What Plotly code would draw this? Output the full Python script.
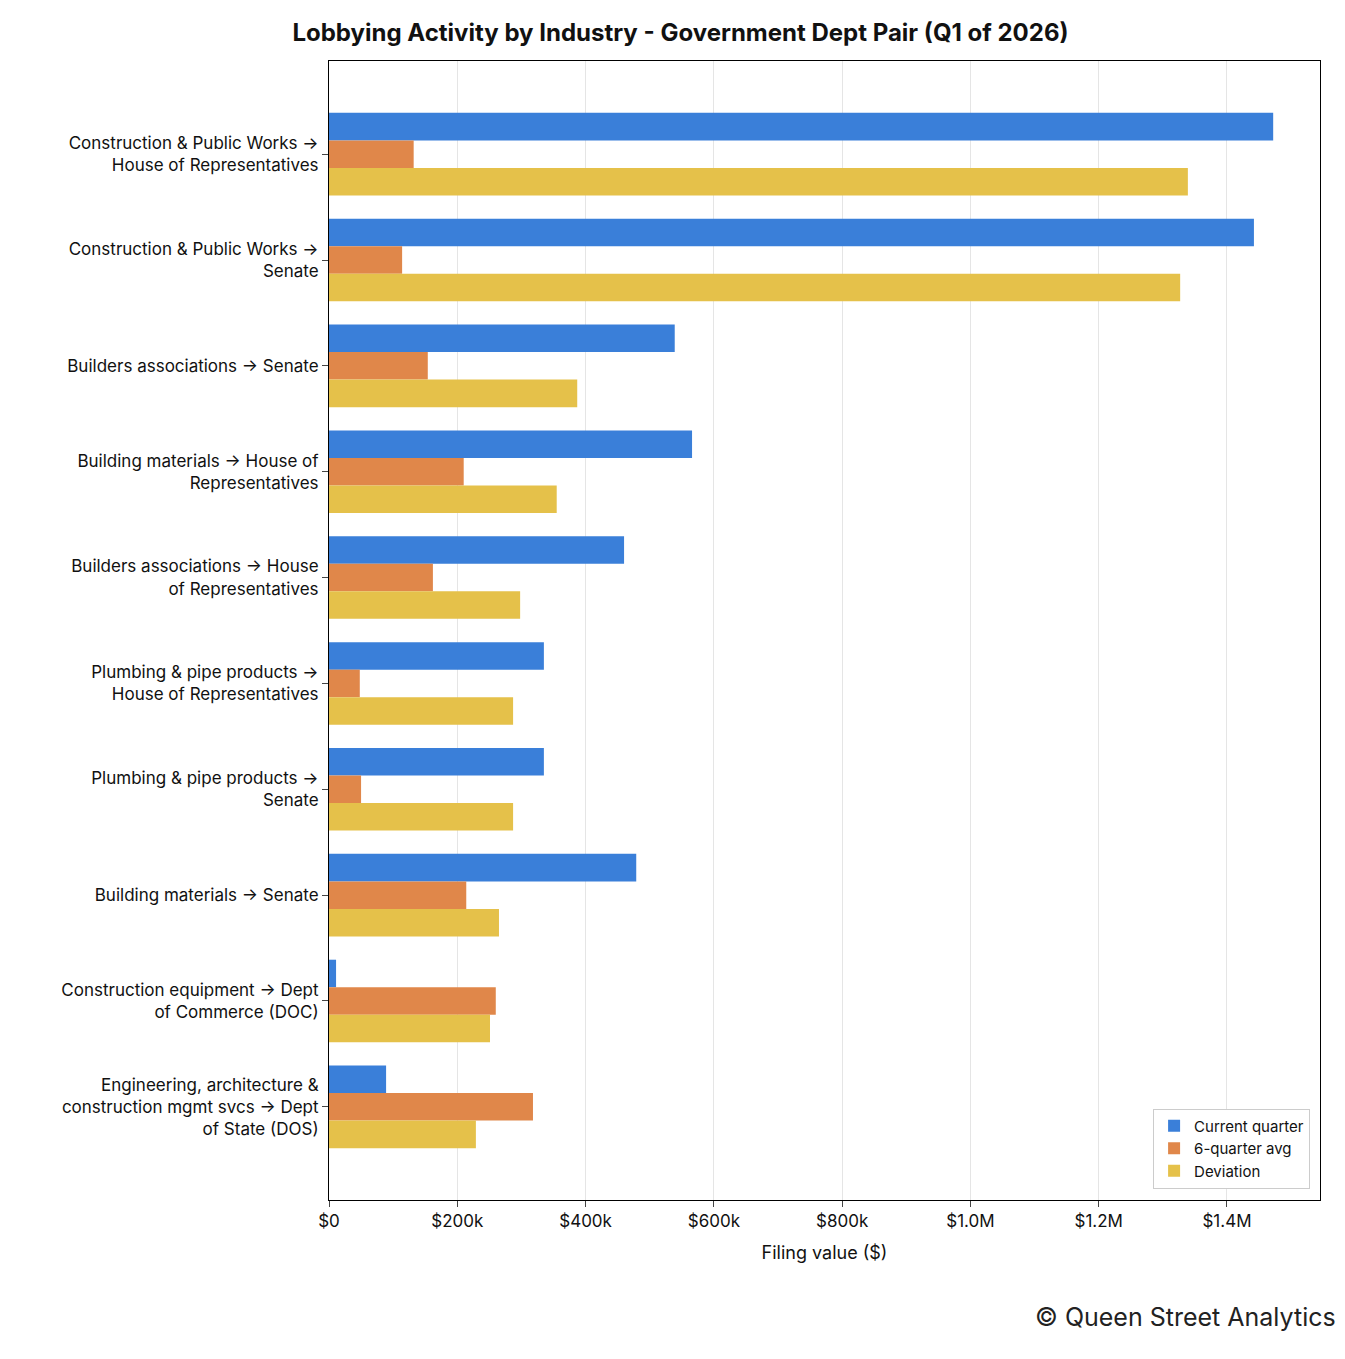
import plotly.graph_objects as go

categories = [
    "Construction & Public Works →<br>House of Representatives",
    "Construction & Public Works →<br>Senate",
    "Builders associations → Senate",
    "Building materials → House of<br>Representatives",
    "Builders associations → House<br>of Representatives",
    "Plumbing & pipe products →<br>House of Representatives",
    "Plumbing & pipe products →<br>Senate",
    "Building materials → Senate",
    "Construction equipment → Dept<br>of Commerce (DOC)",
    "Engineering, architecture &<br>construction mgmt svcs → Dept<br>of State (DOS)",
]
current_quarter = [1472000, 1442000, 539000, 566000, 460000, 335000, 335000, 479000, 11000, 89000]
six_quarter_avg = [132000, 114000, 154000, 210000, 162000, 48000, 50000, 214000, 260000, 318000]
deviation = [1339000, 1327000, 387000, 355000, 298000, 287000, 287000, 265000, 251000, 229000]

tick_vals = [0, 200000, 400000, 600000, 800000, 1000000, 1200000, 1400000]
tick_text = ["$0", "$200k", "$400k", "$600k", "$800k", "$1.0M", "$1.2M", "$1.4M"]

fig = go.Figure()
for name, vals, color in [
    ("Current quarter", current_quarter, "#3a7fd9"),
    ("6-quarter avg", six_quarter_avg, "#e0874a"),
    ("Deviation", deviation, "#e5c14a"),
]:
    fig.add_trace(go.Bar(y=categories, x=vals, name=name, orientation="h",
                         marker=dict(color=color, line=dict(width=0))))

fig.update_layout(
    width=1345, height=1359,
    barmode="group", bargap=0.22, bargroupgap=0,
    plot_bgcolor="white", paper_bgcolor="white",
    font=dict(family="Inter, DejaVu Sans, sans-serif", size=17, color="#111"),
    title=dict(text="<b>Lobbying Activity by Industry - Government Dept Pair (Q1 of 2026)</b>",
               x=0.5, xanchor="center", y=0.988, yanchor="top", font=dict(size=24)),
    margin=dict(l=321, r=33, t=53, b=167),
    legend=dict(x=0.99, y=0.01, xanchor="right", yanchor="bottom",
                bordercolor="#ccc", borderwidth=1, font=dict(size=15),
                traceorder="normal"),
    showlegend=True,
)
fig.update_xaxes(range=[0, 1545000], tickvals=tick_vals, ticktext=tick_text,
                 showgrid=True, gridcolor="#e5e5e5", ticks="outside", ticklen=6,
                 showline=True, linecolor="black", mirror=True, zeroline=False,
                 title=dict(text="Filing value ($)", font=dict(size=18)))
fig.update_yaxes(range=[9.88, -0.88], ticks="outside", ticklen=6,
                 showline=True, linecolor="black", mirror=True)
fig.add_annotation(text="© Queen Street Analytics", xref="paper", yref="paper",
                   x=1.018, y=-0.118, xanchor="right", yanchor="bottom",
                   showarrow=False, font=dict(size=25, color="#222"))
fig.write_html("out.html")
